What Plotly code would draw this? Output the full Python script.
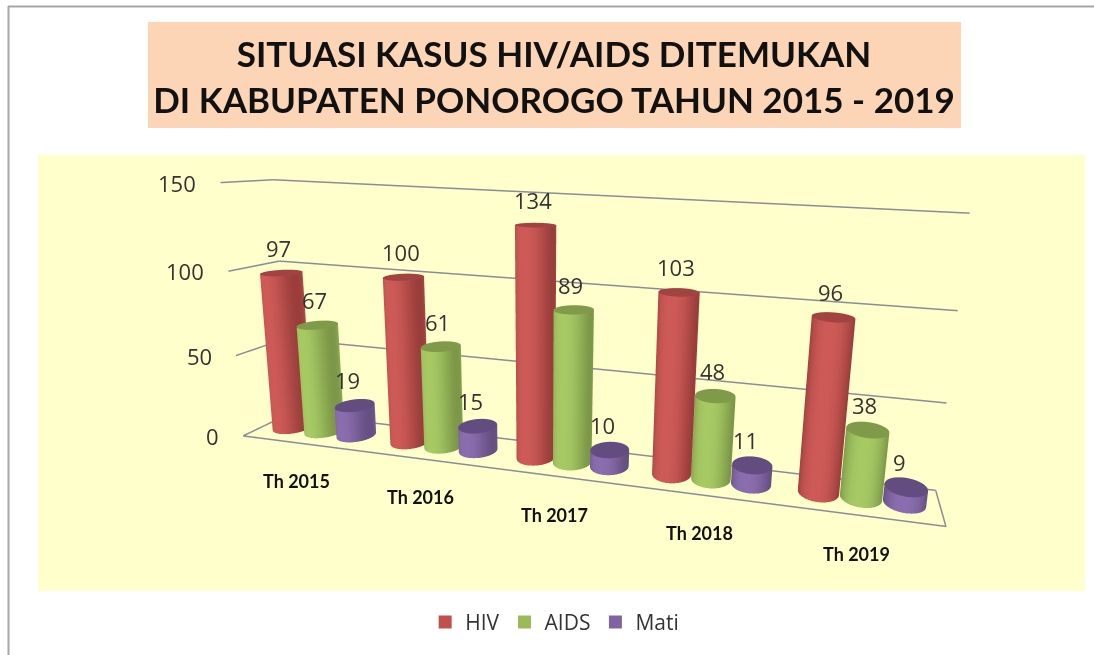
import numpy as np
import plotly.graph_objects as go

categories = ["Th 2015", "Th 2016", "Th 2017", "Th 2018", "Th 2019"]
series_names = ["HIV", "AIDS", "Mati"]
hiv = [97, 100, 134, 103, 96]
aids = [67, 61, 89, 48, 38]
mati = [19, 15, 10, 11, 9]
axis_ticks = [0, 50, 100, 150]
W, H = 1094, 655

colors = ["#C0504D", "#9BBB59", "#8064A2"]
lights = ["#CD5A57", "#A6C964", "#8A6DAE"]
darks = ["#9A3E3B", "#7C9747", "#664F82"]
tops = ["#A14340", "#7F9A49", "#624C80"]
values = [hiv, aids, mati]

eye = dict(x=0.5661, y=-1.7047, z=0.4395)
center = dict(x=0.1210, y=0.2688, z=-0.0320)
roll = -0.0327
aspect = dict(x=1.6932, y=0.1830, z=0.6335)

fig = go.Figure()
n = len(categories)
STEP = 0.2755
RX = STEP * 0.49
RY = RX * (aspect["x"] / n) / aspect["y"] * 1.15
theta = np.linspace(0, 2 * np.pi, 61)
light = dict(ambient=1, diffuse=0, specular=0, fresnel=0)
for j, vals in enumerate(values):
    for i, v in enumerate(vals):
        cx = i + 0.5 + (j - 1) * STEP
        cy = 0.5
        X = np.outer(cx + RX * np.cos(theta), [1, 1])
        Y = np.outer(cy + RY * np.sin(theta), [1, 1])
        Z = np.outer(np.ones_like(theta), [0, v])
        S = np.outer(1 - np.abs(np.cos(theta + 0.15)) ** 2.5, [1, 1])
        fig.add_trace(go.Surface(x=X, y=Y, z=Z, surfacecolor=S, cmin=0, cmax=1, showscale=False,
            colorscale=[[0, darks[j]], [1, lights[j]]], hoverinfo="skip", showlegend=False, lighting=light))
        rad = np.array([0, 1])
        X2 = cx + np.outer(np.cos(theta), rad) * RX
        Y2 = cy + np.outer(np.sin(theta), rad) * RY
        Z2 = np.full_like(X2, v, dtype=float)
        fig.add_trace(go.Surface(x=X2, y=Y2, z=Z2, surfacecolor=np.zeros_like(X2), cmin=0, cmax=1, showscale=False,
            colorscale=[[0, tops[j]], [1, tops[j]]], hoverinfo="skip", showlegend=False, lighting=light))

lx, ly, lz = [], [], []
for t in axis_ticks:
    lx += [0, 0, n, None]; ly += [0, 1, 1, None]; lz += [t, t, t, None]
lx += [0, n, n]; ly += [0, 0, 1]; lz += [0, 0, 0]
fig.add_trace(go.Scatter3d(x=lx, y=ly, z=lz, mode="lines", line=dict(color="#8A8D96", width=3),
                           hoverinfo="skip", showlegend=False))
for j, name in enumerate(series_names):
    fig.add_trace(go.Scatter3d(x=[None], y=[None], z=[None], mode="markers", name=name,
                               marker=dict(symbol="square", size=13, color=colors[j])))

ann = []
for t in axis_ticks:
    ann.append(dict(x=0, y=0, z=t, text=str(t), showarrow=False, xanchor="right", xshift=-22, yshift=0,
                    font=dict(family="Open Sans", size=22, color="#333333")))
for i, c_ in enumerate(categories):
    ann.append(dict(x=i + 0.5, y=0, z=0, text=c_, showarrow=False, yshift=-38, xshift=-5,
                    font=dict(family="Lato", size=18, color="#111111", weight="bold")))
for j, vals in enumerate(values):
    for i, v in enumerate(vals):
        ann.append(dict(x=i + 0.5 + (j - 1) * STEP, y=0.5, z=v, text=str(v), showarrow=False, yshift=25,
                        xshift=[-3, -3, -7][j], font=dict(family="Open Sans", size=22, color="#333333")))

hidden = dict(visible=False)
fig.update_layout(
    width=W, height=H, autosize=False, margin=dict(l=0, r=0, t=0, b=0), paper_bgcolor="white",
    title=dict(text="SITUASI KASUS HIV/AIDS DITEMUKAN<br>DI KABUPATEN PONOROGO TAHUN 2015 - 2019",
               x=554/W, xanchor="center", xref="paper", y=1-67/H, yanchor="middle", yref="container",
               font=dict(family="Lato", size=35, color="#111111", weight="bold")),
    shapes=[
        dict(type="rect", xref="paper", yref="paper", x0=148/W, x1=961/W, y0=1-128/H, y1=1-22/H,
             fillcolor="#FBD5B5", line_width=0, layer="below"),
        dict(type="rect", xref="paper", yref="paper", x0=38/W, x1=1085/W, y0=1-591/H, y1=1-155/H,
             fillcolor="#FFFFCC", line_width=0, layer="below"),
        dict(type="line", xref="paper", yref="paper", x0=8.5/W, x1=8.5/W, y0=0, y1=1-6/H, line=dict(color="#A6A6A6", width=2), layer="below"),
        dict(type="line", xref="paper", yref="paper", x0=8/W, x1=1, y0=1-6.5/H, y1=1-6.5/H, line=dict(color="#A6A6A6", width=2), layer="below"),
    ],
    legend=dict(orientation="h", x=0.507, xanchor="center", y=0.05, yanchor="middle",
                font=dict(family="Open Sans", size=21, color="#333333"), bgcolor="rgba(0,0,0,0)"),
    scene=dict(
        domain=dict(x=[206/W, 1], y=[0, 1]),
        dragmode="orbit",
        xaxis=dict(range=[0, n], **hidden), yaxis=dict(range=[0, 1], **hidden), zaxis=dict(range=[0, 150], **hidden),
        aspectmode="manual", aspectratio=aspect,
        camera=dict(eye=eye, center=center, up=dict(x=float(np.sin(roll)), y=0, z=float(np.cos(roll))),
                    projection=dict(type="perspective")),
        annotations=ann,
    ),
)
fig.write_html("out.html", config={"displayModeBar": False}, post_script="document.body.style.margin='0';")
